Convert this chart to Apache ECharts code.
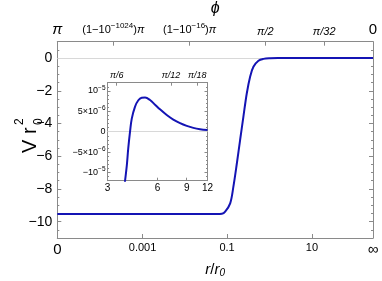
<!DOCTYPE html>
<html><head><meta charset="utf-8">
<script src="https://cdn.jsdelivr.net/npm/echarts@6/dist/echarts.min.js"></script>
<style>html,body{margin:0;padding:0;background:#fff}#c{width:382px;height:281px}</style>
</head><body><div id="c"></div>
<script>
// ---- Main plot: compactified radial coordinate (0 ... ∞) vs V r0^2 ----
const mainX = [0, 0.6, 1.2, 1.6, 1.8, 1.88, 1.939, 1.978, 2.037, 2.075, 2.116, 2.154, 2.193, 2.233, 2.272, 2.311, 2.370, 2.429, 2.508, 2.6, 2.8, 3.2, 3.72];
const mainV = [-9.54, -9.54, -9.54, -9.54, -9.54, -9.54, -9.52, -9.39, -8.88, -7.86, -6.43, -5.01, -3.58, -2.15, -1.14, -0.53, -0.16, -0.05, -0.01, 0, 0, 0, 0];
const bottomTickPos = [0, 1.005, 2.0, 3.0, 3.72];
const bottomTickLabels = ['{big|0}', '0.001', '0.1', '10', '{big|∞}'];
const topTickPos = [0, 0.660, 1.559, 2.452, 3.145, 3.72];
const topTickLabels = ['{bigi|π}', '(1−10{s|−1024}){i|π}', '(1−10{s|−16}){i|π}', '{i|π/2}', '{i|π/32}', '{big|0}'];
const yTickPos = [0, -2, -4, -6, -8, -10];
const yTickLabels = ['0', '−2', '−4', '−6', '−8', '−10'];

// ---- Inset: r/r0 (log) vs V r0^2 ----
const insetR = [3.80, 3.92, 4.00, 4.10, 4.20, 4.39, 4.60, 4.82, 5.05, 5.41, 5.80, 6.21, 6.82, 7.47, 8.20, 9.00, 9.86, 10.82, 12];
const insetV = [-13e-6, -8.3e-6, -4.1e-6, 0, 3.2e-6, 6.1e-6, 7.7e-6, 8.3e-6, 8.35e-6, 7.75e-6, 6.61e-6, 5.47e-6, 4.08e-6, 2.96e-6, 2.08e-6, 1.42e-6, 0.94e-6, 0.62e-6, 0.42e-6];
const insetXTicks = [3, 6, 9, 12];
const insetXLabels = ['3', '6', '9', '12'];
const insetTopTickPos = [3.41, 7.24, 10.4];
const insetTopLabels = ['{i|π/6}', '{i|π/12}', '{i|π/18}'];
const insetYTickPos = [1e-5, 5e-6, 0, -5e-6, -1e-5];
const insetYLabels = ['10{s|−5}', '5×10{s|−6}', '0', '−5×10{s|−6}', '−10{s|−5}'];

const FONT = 'Liberation Sans';
const FRAME = '#8a8a8a';
const CURVE = '#1414b4';

function fmt(pos, labels) {
  return function (v) {
    let b = 0;
    for (let i = 1; i < pos.length; i++) if (Math.abs(pos[i] - v) < Math.abs(pos[b] - v)) b = i;
    return labels[b];
  };
}
const mainMinor = [];
for (let v = -11; v <= 1.0001; v += 0.5) if (Math.abs(v % 2) > 0.01) mainMinor.push(v);
const insetMinor = [];
for (let k = -12; k <= 12; k++) if (k % 5 !== 0) insetMinor.push(k * 1e-6);

const richMain = {
  s: { fontSize: 8, fontFamily: FONT, padding: [0, 0, 8, 0] },
  i: { fontSize: 11, fontFamily: FONT, fontStyle: 'italic' },
  big: { fontSize: 15, fontFamily: FONT },
  bigi: { fontSize: 15, fontFamily: FONT, fontStyle: 'italic' }
};
const richInset = {
  s: { fontSize: 6.5, fontFamily: FONT, padding: [0, 0, 6, 0] },
  i: { fontSize: 9, fontFamily: FONT, fontStyle: 'italic' }
};

function line(show) { return { show: show, onZero: false, lineStyle: { color: FRAME, width: 1 } }; }

const chart = echarts.init(document.getElementById('c'), null, { renderer: 'canvas' });
chart.setOption({
  animation: false,
  backgroundColor: '#fff',
  grid: [
    { left: 57.3, right: 9, top: 41.7, bottom: 43, outerBoundsMode: 'none', containLabel: false },
    { left: 107.5, right: 174.5, top: 82.7, bottom: 100.3, outerBoundsMode: 'none', containLabel: false }
  ],
  xAxis: [
    { type: 'value', gridIndex: 0, position: 'bottom', min: 0, max: 3.72,
      axisLine: line(true), splitLine: { show: false },
      axisTick: { show: true, inside: true, length: 4, customValues: bottomTickPos.slice(1, 4), lineStyle: { color: FRAME } },
      axisLabel: { customValues: bottomTickPos, formatter: fmt(bottomTickPos, bottomTickLabels), color: '#000', fontSize: 11, fontFamily: FONT, margin: 4, rich: richMain },
      name: '{i|r}/{i|r}{sub|0}', nameLocation: 'middle', nameGap: 21,
      nameTextStyle: { color: '#000', fontSize: 15, fontFamily: FONT, rich: { i: { fontSize: 15, fontStyle: 'italic', fontFamily: FONT }, sub: { fontSize: 10, fontStyle: 'italic', fontFamily: FONT, padding: [7, 0, 0, 0] } } } },
    { type: 'value', gridIndex: 0, position: 'top', min: 0, max: 3.72,
      axisLine: line(true), splitLine: { show: false },
      axisTick: { show: true, inside: true, length: 4, customValues: topTickPos.slice(1, 5), lineStyle: { color: FRAME } },
      axisLabel: { customValues: topTickPos, formatter: fmt(topTickPos, topTickLabels), color: '#000', fontSize: 11, fontFamily: FONT, margin: 4, rich: richMain },
      name: 'ϕ', nameLocation: 'middle', nameGap: 21,
      nameTextStyle: { color: '#000', fontSize: 16, fontStyle: 'italic', fontFamily: FONT } },
    { type: 'log', logBase: 10, gridIndex: 1, position: 'bottom', min: 3, max: 12,
      axisLine: line(true), splitLine: { show: false }, minorTick: { show: false },
      axisTick: { show: true, inside: true, length: 3, customValues: [6, 9], lineStyle: { color: FRAME } },
      axisLabel: { customValues: insetXTicks, formatter: fmt(insetXTicks, insetXLabels), color: '#000', fontSize: 10, fontFamily: FONT, margin: 3 } },
    { type: 'log', logBase: 10, gridIndex: 1, position: 'top', min: 3, max: 12,
      axisLine: line(true), splitLine: { show: false }, minorTick: { show: false },
      axisTick: { show: true, inside: true, length: 3, customValues: insetTopTickPos, lineStyle: { color: FRAME } },
      axisLabel: { customValues: insetTopTickPos, formatter: fmt(insetTopTickPos, insetTopLabels), color: '#000', fontSize: 9, fontFamily: FONT, margin: 3, rich: richInset } }
  ],
  yAxis: [
    { type: 'value', gridIndex: 0, position: 'left', min: -11, max: 1,
      axisLine: line(true), splitLine: { show: false },
      axisTick: { show: true, inside: true, length: 4, customValues: yTickPos, lineStyle: { color: FRAME } },
      axisLabel: { customValues: yTickPos, formatter: fmt(yTickPos, yTickLabels), color: '#000', fontSize: 14, fontFamily: FONT, margin: 5 } },
    { type: 'value', gridIndex: 0, position: 'right', min: -11, max: 1,
      axisLine: line(true), splitLine: { show: false },
      axisTick: { show: true, inside: true, length: 4, customValues: yTickPos, lineStyle: { color: FRAME } },
      axisLabel: { show: false } },
    { type: 'value', gridIndex: 0, position: 'left', min: -11, max: 1, offset: 0,
      axisLine: line(false), splitLine: { show: false },
      axisTick: { show: true, inside: true, length: 2, customValues: mainMinor, lineStyle: { color: FRAME } },
      axisLabel: { show: false } },
    { type: 'value', gridIndex: 0, position: 'right', min: -11, max: 1, offset: 0,
      axisLine: line(false), splitLine: { show: false },
      axisTick: { show: true, inside: true, length: 2, customValues: mainMinor, lineStyle: { color: FRAME } },
      axisLabel: { show: false } },
    { type: 'value', gridIndex: 1, position: 'left', min: -1.2e-5, max: 1.2e-5,
      axisLine: line(true), splitLine: { show: false },
      axisTick: { show: true, inside: true, length: 3, customValues: insetYTickPos, lineStyle: { color: FRAME } },
      axisLabel: { customValues: insetYTickPos, formatter: fmt(insetYTickPos, insetYLabels), color: '#000', fontSize: 9, fontFamily: FONT, margin: 2, rich: richInset } },
    { type: 'value', gridIndex: 1, position: 'right', min: -1.2e-5, max: 1.2e-5,
      axisLine: line(true), splitLine: { show: false },
      axisTick: { show: true, inside: true, length: 3, customValues: insetYTickPos, lineStyle: { color: FRAME } },
      axisLabel: { show: false } },
    { type: 'value', gridIndex: 1, position: 'left', min: -1.2e-5, max: 1.2e-5, offset: 0,
      axisLine: line(false), splitLine: { show: false },
      axisTick: { show: true, inside: true, length: 1.5, customValues: insetMinor, lineStyle: { color: FRAME } },
      axisLabel: { show: false } },
    { type: 'value', gridIndex: 1, position: 'right', min: -1.2e-5, max: 1.2e-5, offset: 0,
      axisLine: line(false), splitLine: { show: false },
      axisTick: { show: true, inside: true, length: 1.5, customValues: insetMinor, lineStyle: { color: FRAME } },
      axisLabel: { show: false } }
  ],
  series: [
    { type: 'line', xAxisIndex: 0, yAxisIndex: 0, data: mainX.map((x, i) => [x, mainV[i]]),
      showSymbol: false, smooth: 0.35, clip: true,
      lineStyle: { color: CURVE, width: 2 }, z: 5,
      markLine: { silent: true, symbol: ['none', 'none'], label: { show: false }, animation: false,
        lineStyle: { color: '#d8d8d8', width: 1, type: 'solid' }, data: [{ yAxis: 0 }] } },
    { type: 'line', xAxisIndex: 2, yAxisIndex: 4, data: insetR.map((r, i) => [r, insetV[i]]),
      showSymbol: false, smooth: 0.35, clip: true,
      lineStyle: { color: CURVE, width: 2 }, z: 5,
      markLine: { silent: true, symbol: ['none', 'none'], label: { show: false }, animation: false,
        lineStyle: { color: '#d8d8d8', width: 1, type: 'solid' }, data: [{ yAxis: 0 }] } }
  ],
  graphic: [
    { type: 'group', x: 30, y: 153, rotation: Math.PI / 2, silent: true, children: [
      { type: 'text', x: 0, y: 0, style: { text: 'V', fontSize: 20, fontFamily: FONT, fill: '#000', align: 'left', verticalAlign: 'middle' } },
      { type: 'text', x: 19, y: 0, style: { text: 'r', fontSize: 20, fontFamily: FONT, fill: '#000', align: 'left', verticalAlign: 'middle' } },
      { type: 'text', x: 28, y: 9, style: { text: '0', fontSize: 12, fontFamily: FONT, fill: '#000', align: 'left', verticalAlign: 'middle' } },
      { type: 'text', x: 28, y: -10, style: { text: '2', fontSize: 12, fontFamily: FONT, fill: '#000', align: 'left', verticalAlign: 'middle' } }
    ] }
  ]
});
</script>
</body></html>
